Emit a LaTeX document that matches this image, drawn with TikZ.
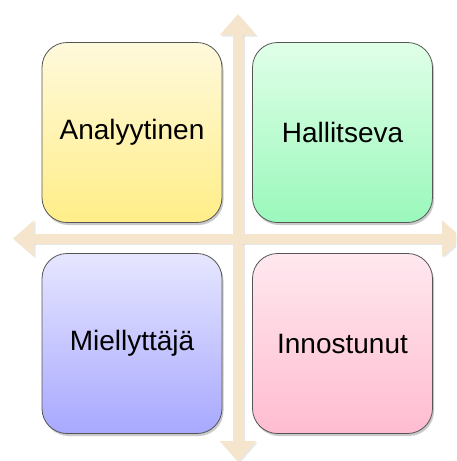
\documentclass[tikz,border=0pt]{standalone}
\usepackage{fontspec}
\setmainfont{Liberation Sans}
\usetikzlibrary{arrows.meta,shadows}
\definecolor{arrowcol}{HTML}{F5E5CD}
\definecolor{edgecol}{HTML}{555555}
\definecolor{yelTop}{HTML}{FFF9DC}
\definecolor{yelBot}{HTML}{FFEE88}
\definecolor{grnTop}{HTML}{E0FFE8}
\definecolor{grnBot}{HTML}{9AF8BB}
\definecolor{purTop}{HTML}{E6E6FF}
\definecolor{purBot}{HTML}{A8A8FF}
\definecolor{pnkTop}{HTML}{FFE8EF}
\definecolor{pnkBot}{HTML}{FFBCD0}
\begin{document}
\begin{tikzpicture}[x=1pt,y=-1pt,
  quadbox/.style={draw=edgecol, line width=0.8pt, rounded corners=25pt,
    minimum width=180pt, minimum height=180pt, inner sep=0pt,
    font=\fontsize{28}{32}\selectfont, text=black,
    drop shadow={shadow xshift=1.5pt, shadow yshift=-2.5pt, opacity=0.35, fill=black!60}},
  axisarrow/.style={draw=arrowcol, line width=10pt,
    {Triangle[length=21pt,width=35pt]}-{Triangle[length=21pt,width=35pt]}},
  axisshadow/.style={draw=black!25, line width=10pt, opacity=0.35,
    {Triangle[length=21pt,width=35pt]}-{Triangle[length=21pt,width=35pt]}}
]
\clip (0,0) rectangle (456,461);
\fill[white] (0,0) rectangle (456,461);
% axis end points
\coordinate (top) at (238,14);
\coordinate (bot) at (238,462);
\coordinate (lft) at (13,238.5);
\coordinate (rgt) at (463,238.5);
\coordinate (topS) at (239.5,15.5);
\coordinate (botS) at (239.5,463.5);
\coordinate (lftS) at (14.5,240);
\coordinate (rgtS) at (464.5,240);
% arrow shadows
\draw[axisshadow] (topS) -- (botS);
\draw[axisshadow] (lftS) -- (rgtS);
% arrows
\draw[axisarrow] (top) -- (bot);
\draw[axisarrow] (lft) -- (rgt);
% boxes
\node[quadbox, top color=yelTop, bottom color=yelBot] (ana) at (132,132.5) {Analyytinen};
\node[quadbox, top color=grnTop, bottom color=grnBot] (hal) at (342.5,132.5) {Hallitseva};
\node[quadbox, top color=purTop, bottom color=purBot] (mie) at (132,343.5) {Miellyttäjä};
\node[quadbox, top color=pnkTop, bottom color=pnkBot] (inn) at (342.5,343.5) {Innostunut};
\end{tikzpicture}
\end{document}
